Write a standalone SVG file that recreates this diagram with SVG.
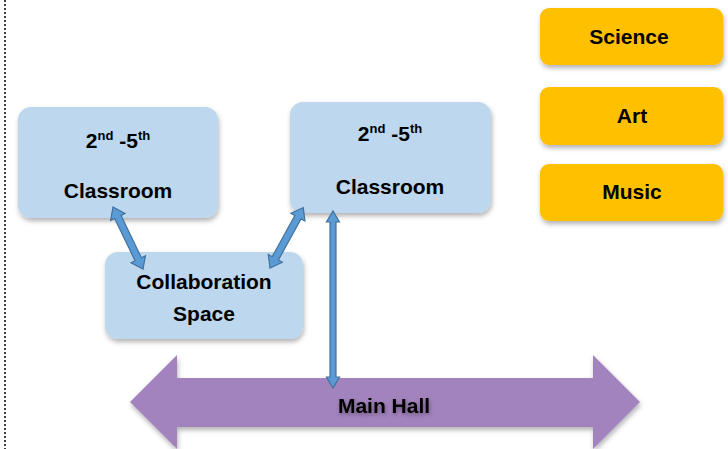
<svg xmlns="http://www.w3.org/2000/svg" width="728" height="449" viewBox="0 0 728 449">
<style>
.blue{fill:#BDD7EE;}
.orange{fill:#FFC000;}
.t{font-family:"Liberation Sans",Arial,sans-serif;font-weight:bold;font-size:21px;fill:#000;text-anchor:middle;}
.sup{font-size:13px;}
.conn{fill:#5B9BD5;stroke:#41719C;stroke-width:1.2;stroke-linejoin:miter;}
</style>
<defs>
<filter id="sh" x="-20%" y="-20%" width="140%" height="150%">
<feDropShadow dx="1" dy="3" stdDeviation="2.5" flood-color="#000" flood-opacity="0.3"/>
</filter>
<filter id="tsh" x="-20%" y="-50%" width="140%" height="200%">
<feDropShadow dx="1" dy="2" stdDeviation="2" flood-color="#000" flood-opacity="0.35"/>
</filter>
</defs>
<line x1="5" y1="0" x2="5" y2="449" stroke="#000" stroke-width="1.5" stroke-dasharray="2,2"/>
<g id="mainhall">
<polygon points="130,402 177,355 177,378 593,378 593,355 640,402 593,449 593,427 177,427 177,449" fill="#A383BE" filter="url(#sh)"/>
<text class="t" x="384" y="413" filter="url(#tsh)">Main Hall</text>
</g>
<g id="classroom1">
<rect class="blue" x="18" y="107" width="200" height="111" rx="13" filter="url(#sh)"/>
<text class="t" x="118" y="148">2<tspan class="sup" dy="-8">nd</tspan><tspan dy="8"> -5</tspan><tspan class="sup" dy="-8">th</tspan></text>
<text class="t" x="118" y="198">Classroom</text>
</g>
<g id="classroom2">
<rect class="blue" x="290" y="102" width="201" height="111" rx="13" filter="url(#sh)"/>
<text class="t" x="390" y="141">2<tspan class="sup" dy="-8">nd</tspan><tspan dy="8"> -5</tspan><tspan class="sup" dy="-8">th</tspan></text>
<text class="t" x="390" y="194">Classroom</text>
</g>
<g id="collab">
<rect class="blue" x="105" y="252" width="198" height="87" rx="13" filter="url(#sh)"/>
<text class="t" x="204" y="289">Collaboration</text>
<text class="t" x="204" y="321">Space</text>
</g>
<g id="science">
<rect class="orange" x="540" y="8" width="183" height="57" rx="9" filter="url(#sh)"/>
<text class="t" x="629" y="44">Science</text>
</g>
<g id="art">
<rect class="orange" x="540" y="87" width="183" height="58" rx="9" filter="url(#sh)"/>
<text class="t" x="632" y="123">Art</text>
</g>
<g id="music">
<rect class="orange" x="540" y="164" width="183" height="57" rx="9" filter="url(#sh)"/>
<text class="t" x="632" y="199">Music</text>
</g>
<g id="connectors">
<polygon class="conn" transform="translate(113,207) rotate(64.2)" points="0,0 11,-8 11,-3.5 58,-3.5 58,-8 69,0 58,8 58,3.5 11,3.5 11,8"/>
<polygon class="conn" transform="translate(270,268) rotate(-61.2)" points="0,0 11,-8 11,-3.5 58,-3.5 58,-8 69,0 58,8 58,3.5 11,3.5 11,8"/>
<polygon class="conn" transform="translate(333,211) rotate(90)" points="0,0 11,-6.5 11,-3 166,-3 166,-6.5 177,0 166,6.5 166,3 11,3 11,6.5"/>
</g>
</svg>
